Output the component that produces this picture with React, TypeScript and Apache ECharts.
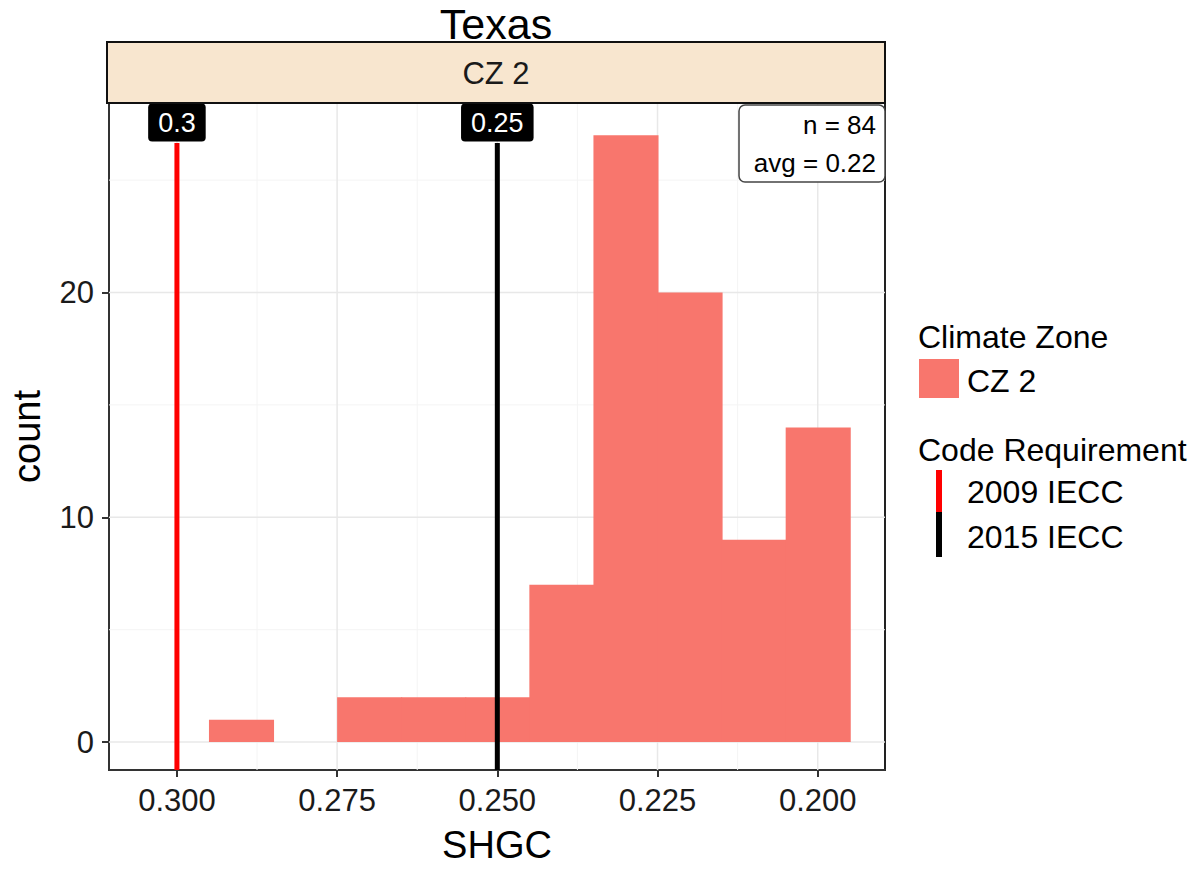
import React, { useEffect, useRef } from "react";
import * as echarts from "echarts";

const binCenters = [0.29, 0.28, 0.27, 0.26, 0.25, 0.24, 0.23, 0.22, 0.21, 0.2];
const binCounts = [1, 0, 2, 2, 2, 7, 27, 20, 9, 14];
const binWidth = 0.01;

const xTicks = [0.3, 0.275, 0.25, 0.225, 0.2];
const xMinorTicks = [0.2875, 0.2625, 0.2375, 0.2125];
const yTicks = [0, 10, 20];
const yMinorTicks = [5, 15, 25];

const codeNames = ["2009 IECC", "2015 IECC"];
const codeValues = [0.3, 0.25];
const codeLabels = ["0.3", "0.25"];
const codeColors = ["#FF0000", "#000000"];
const codeLineTop = 26.65;
const codeLabelY = 27.56;

const zoneName = "CZ 2";
const stateName = "Texas";
const nObs = 84;
const avgValue = 0.22;

const X_MIN = 0.1895;
const X_MAX = 0.3106;
const Y_MIN = -1.24;
const Y_MAX = 28.43;

const FONT = "Liberation Sans, Arial, sans-serif";
const BAR_COLOR = "#F8766D";

export default function App() {
  const ref = useRef<HTMLDivElement>(null);

  useEffect(() => {
    document.body.style.margin = "0";
    if (!ref.current) return;
    const chart = echarts.init(ref.current, null, { renderer: "svg" });

    const barData = binCenters
      .map((c, i) => [c - binWidth / 2, c + binWidth / 2, binCounts[i]])
      .filter((d) => d[2] > 0);

    // grid lines: [orientation (0 = vertical, 1 = horizontal), value, major flag]
    const gridData: number[][] = [];
    xMinorTicks.forEach((v) => gridData.push([0, v, 0]));
    yMinorTicks.forEach((v) => gridData.push([1, v, 0]));
    xTicks.forEach((v) => gridData.push([0, v, 1]));
    yTicks.forEach((v) => gridData.push([1, v, 1]));

    const codeSeries: any[] = [];
    codeValues.forEach((v, i) => {
      codeSeries.push({
        type: "line",
        name: codeNames[i],
        data: [
          [v, Y_MIN],
          [v, codeLineTop],
        ],
        symbol: "none",
        lineStyle: { color: codeColors[i], width: 5, opacity: 1 },
        silent: true,
        z: 5,
      });
      codeSeries.push({
        type: "scatter",
        name: codeNames[i] + " label",
        data: [[v, codeLabelY]],
        symbolSize: 0,
        itemStyle: { opacity: 1 },
        silent: true,
        z: 6,
        label: {
          show: true,
          position: "inside",
          formatter: codeLabels[i],
          color: "#ffffff",
          backgroundColor: "#000000",
          opacity: 1,
          borderRadius: 4,
          padding: [6, 10, 5, 10],
          fontSize: 27,
          lineHeight: 27,
          fontFamily: FONT,
        },
      });
    });

    const option: any = {
      animation: false,
      backgroundColor: "#ffffff",
      textStyle: { fontFamily: FONT },
      grid: {
        left: 107,
        top: 103,
        width: 778,
        height: 669,
        show: true,
        backgroundColor: "#ffffff",
        borderColor: "#222",
        borderWidth: 2,
        containLabel: false,
      },
      xAxis: {
        type: "value",
        inverse: true,
        min: X_MIN,
        max: X_MAX,
        name: "SHGC",
        nameLocation: "middle",
        nameGap: 56,
        nameTextStyle: { fontSize: 38, color: "#000", fontFamily: FONT },
        axisLine: { show: true, onZero: false, lineStyle: { color: "#333", width: 2 } },
        axisTick: {
          show: true,
          length: 7,
          customValues: xTicks,
          lineStyle: { color: "#333", width: 2 },
        },
        axisLabel: {
          customValues: xTicks,
          formatter: (v: number) => v.toFixed(3),
          fontSize: 31,
          color: "#1a1a1a",
          margin: 15,
          fontFamily: FONT,
        },
        splitLine: { show: false },
      },
      yAxis: {
        type: "value",
        min: Y_MIN,
        max: Y_MAX,
        name: "count",
        nameLocation: "middle",
        nameGap: 63,
        nameRotate: 90,
        nameTextStyle: { fontSize: 38, color: "#000", fontFamily: FONT },
        axisLine: { show: true, onZero: false, lineStyle: { color: "#333", width: 2 } },
        axisTick: {
          show: true,
          length: 7,
          customValues: yTicks,
          lineStyle: { color: "#333", width: 2 },
        },
        axisLabel: {
          customValues: yTicks,
          formatter: (v: number) => String(Math.round(v)),
          fontSize: 31,
          color: "#1a1a1a",
          margin: 15,
          fontFamily: FONT,
        },
        splitLine: { show: false },
      },
      series: [
        {
          type: "custom",
          name: "grid",
          data: gridData,
          silent: true,
          z: 1,
          renderItem: (params: any, api: any) => {
            const orient = api.value(0);
            const v = api.value(1);
            const major = api.value(2) === 1;
            let a, b;
            if (orient === 0) {
              a = api.coord([v, Y_MIN]);
              b = api.coord([v, Y_MAX]);
            } else {
              a = api.coord([X_MIN, v]);
              b = api.coord([X_MAX, v]);
            }
            return {
              type: "line",
              shape: { x1: a[0], y1: a[1], x2: b[0], y2: b[1] },
              style: {
                stroke: major ? "#e8e8e8" : "#f4f4f4",
                lineWidth: major ? 1.5 : 1,
              },
            };
          },
        },
        {
          type: "custom",
          name: zoneName,
          data: barData,
          z: 2,
          silent: true,
          renderItem: (params: any, api: any) => {
            const p0 = api.coord([api.value(0), 0]);
            const p1 = api.coord([api.value(1), api.value(2)]);
            const x = Math.min(p0[0], p1[0]);
            const w = Math.abs(p1[0] - p0[0]);
            return {
              type: "rect",
              shape: { x, y: p1[1], width: w + 1, height: p0[1] - p1[1] },
              style: { fill: BAR_COLOR },
            };
          },
        },
        ...codeSeries,
      ],
      graphic: [
        {
          type: "text",
          z: 100,
          x: 496,
          y: 24,
          style: {
            text: stateName,
            fontSize: 43,
            fontFamily: FONT,
            fill: "#000",
            align: "center",
            verticalAlign: "middle",
          },
        },
        {
          type: "rect",
          z: 100,
          shape: { x: 107, y: 42, width: 778, height: 61 },
          style: { fill: "#F8E6CF", stroke: "#111", lineWidth: 2 },
        },
        {
          type: "text",
          z: 101,
          x: 496,
          y: 73,
          style: {
            text: zoneName,
            fontSize: 31,
            fontFamily: FONT,
            fill: "#1a1a1a",
            align: "center",
            verticalAlign: "middle",
          },
        },
        {
          type: "rect",
          z: 100,
          shape: { x: 739, y: 105, width: 146, height: 77, r: 6 },
          style: { fill: "#fff", stroke: "#444", lineWidth: 1.5 },
        },
        {
          type: "text",
          z: 101,
          x: 876,
          y: 125,
          style: {
            text: "n = " + nObs,
            fontSize: 26,
            fontFamily: FONT,
            fill: "#000",
            align: "right",
            verticalAlign: "middle",
          },
        },
        {
          type: "text",
          z: 101,
          x: 876,
          y: 163,
          style: {
            text: "avg = " + avgValue.toFixed(2),
            fontSize: 26,
            fontFamily: FONT,
            fill: "#000",
            align: "right",
            verticalAlign: "middle",
          },
        },
        {
          type: "text",
          z: 100,
          x: 918,
          y: 337,
          style: {
            text: "Climate Zone",
            fontSize: 32,
            fontFamily: FONT,
            fill: "#000",
            verticalAlign: "middle",
          },
        },
        {
          type: "rect",
          z: 100,
          shape: { x: 919, y: 359, width: 40, height: 39 },
          style: { fill: BAR_COLOR },
        },
        {
          type: "text",
          z: 100,
          x: 967,
          y: 381,
          style: {
            text: zoneName,
            fontSize: 32,
            fontFamily: FONT,
            fill: "#000",
            verticalAlign: "middle",
          },
        },
        {
          type: "text",
          z: 100,
          x: 918,
          y: 450,
          style: {
            text: "Code Requirement",
            fontSize: 32,
            fontFamily: FONT,
            fill: "#000",
            verticalAlign: "middle",
          },
        },
        {
          type: "rect",
          z: 100,
          shape: { x: 936, y: 470, width: 6, height: 42 },
          style: { fill: codeColors[0] },
        },
        {
          type: "rect",
          z: 100,
          shape: { x: 936, y: 512, width: 6, height: 45 },
          style: { fill: codeColors[1] },
        },
        {
          type: "text",
          z: 100,
          x: 967,
          y: 492,
          style: {
            text: codeNames[0],
            fontSize: 32,
            fontFamily: FONT,
            fill: "#000",
            verticalAlign: "middle",
          },
        },
        {
          type: "text",
          z: 100,
          x: 967,
          y: 537,
          style: {
            text: codeNames[1],
            fontSize: 32,
            fontFamily: FONT,
            fill: "#000",
            verticalAlign: "middle",
          },
        },
      ],
    };

    chart.setOption(option);
    return () => {
      chart.dispose();
    };
  }, []);

  return <div ref={ref} style={{ width: 1201, height: 869 }} />;
}
